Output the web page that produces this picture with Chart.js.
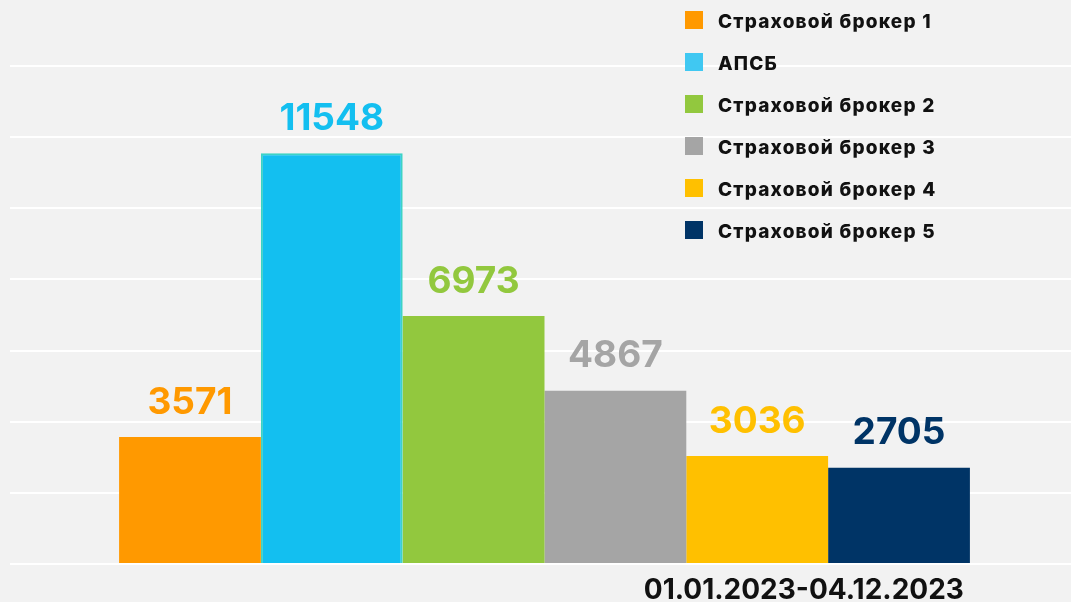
<!DOCTYPE html>
<html>
<head>
<meta charset="utf-8">
<script src="https://cdn.jsdelivr.net/npm/chart.js@4"></script>
<style>
  body { margin: 0; background: #f2f2f2; }
  #wrap { position: relative; width: 1071px; height: 602px; }
  #legend { position: absolute; left: 685px; top: 10px; font-family: Inter, sans-serif; font-weight: 800; font-size: 19px; letter-spacing: 1.2px; color: #111; }
  #legend div { height: 42px; display: flex; align-items: flex-start; }
  #legend span.box { width: 18px; height: 18px; margin-right: 15px; margin-top: 1px; }
</style>
</head>
<body>
<div id="wrap">
  <canvas id="site_chart"></canvas>
  <div id="legend"></div>
</div>
<script>
var period = ['01.01.2023-04.12.2023'];
var names = ['Страховой брокер 1', 'АПСБ', 'Страховой брокер 2', 'Страховой брокер 3', 'Страховой брокер 4', 'Страховой брокер 5'];
var values = [3571, 11548, 6973, 4867, 3036, 2705];
var colors = ['#ff9900', '#13bff0', '#92c83e', '#a5a5a5', '#ffc000', '#003466'];
var legendColors = ['#ff9900', '#40c8f2', '#92c83e', '#a5a5a5', '#ffc000', '#003466'];

// value labels above bars + period label under the group
var barLabels = {
  id: 'barLabels',
  afterDatasetsDraw: function (chart) {
    var ctx = chart.ctx;
    ctx.save();
    ctx.textAlign = 'center';
    ctx.textBaseline = 'bottom';
    ctx.font = '700 37px Inter, sans-serif';
    var lastRight = 0;
    chart.data.datasets.forEach(function (ds, i) {
      var bar = chart.getDatasetMeta(i).data[0];
      ctx.fillStyle = ds.backgroundColor;
      ctx.fillText(ds.data[0], bar.x, bar.y - 16);
      lastRight = bar.x + bar.width / 2;
    });
    ctx.textAlign = 'right';
    ctx.textBaseline = 'alphabetic';
    ctx.fillStyle = '#111';
    ctx.font = '700 28px Inter, sans-serif';
    ctx.fillText(chart.data.labels[0], lastRight - 6, chart.chartArea.bottom + 35);
    ctx.restore();
  }
};

var datasets = names.map(function (n, i) {
  return {
    label: n,
    data: [values[i]],
    backgroundColor: colors[i],
    borderColor: i == 1 ? '#3cd3c6' : colors[i],
    borderWidth: i == 1 ? 2 : 0,
    categoryPercentage: 0.808,
    barPercentage: 1
  };
});

new Chart(document.getElementById('site_chart').getContext('2d'), {
  type: 'bar',
  data: { labels: period, datasets: datasets },
  options: {
    responsive: true,
    maintainAspectRatio: false,
    animation: false,
    layout: { padding: { left: 10, top: 66, bottom: 38, right: 0 } },
    plugins: { legend: { display: false }, tooltip: { enabled: false } },
    scales: {
      x: { display: false },
      y: {
        min: 0, max: 14000,
        ticks: { display: false, stepSize: 2000 },
        border: { display: false },
        grid: { color: '#ffffff', lineWidth: 2 }
      }
    }
  },
  plugins: [barLabels]
});

var lg = document.getElementById('legend');
names.forEach(function (n, i) {
  var row = document.createElement('div');
  var box = document.createElement('span');
  box.className = 'box';
  box.style.background = legendColors[i];
  row.appendChild(box);
  row.appendChild(document.createTextNode(n));
  lg.appendChild(row);
});
</script>
</body>
</html>
